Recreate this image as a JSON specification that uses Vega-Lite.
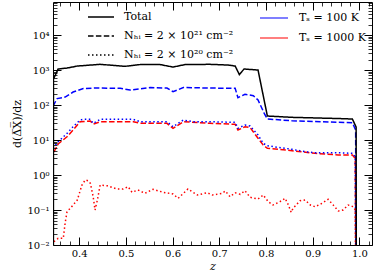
{
"$schema": "https://vega.github.io/schema/vega-lite/v6.json",
"width": 319, "height": 243,
"autosize": {"type": "none"},
"padding": {"left": 53, "top": 2, "right": 2, "bottom": 29},
"background": "white",
"config": {
 "view": {"stroke": "black", "strokeWidth": 1},
 "font": "DejaVu Serif",
 "axis": {"labelFont": "DejaVu Serif", "labelFontSize": 10, "labelColor": "black", "titleFont": "DejaVu Serif", "titleFontSize": 11, "titleFontWeight": "normal", "titleColor": "black", "grid": false},
 "legend": {"labelFont": "DejaVu Serif", "labelFontSize": 11, "labelColor": "black"}
},
"data": {"values": [
{"k":"Total","t":"-","z":0.3448,"v":0.0001},{"k":"Total","t":"-","z":0.345,"v":553},{"k":"Total","t":"-","z":0.355,"v":1069},{"k":"Total","t":"-","z":0.374,"v":1140},{"k":"Total","t":"-","z":0.396,"v":1300},{"k":"Total","t":"-","z":0.445,"v":1455},{"k":"Total","t":"-","z":0.498,"v":1276},{"k":"Total","t":"-","z":0.531,"v":1436},{"k":"Total","t":"-","z":0.573,"v":1436},{"k":"Total","t":"-","z":0.601,"v":1218},{"k":"Total","t":"-","z":0.627,"v":1436},{"k":"Total","t":"-","z":0.68,"v":1455},{"k":"Total","t":"-","z":0.719,"v":1389},{"k":"Total","t":"-","z":0.734,"v":1300},{"k":"Total","t":"-","z":0.743,"v":744},{"k":"Total","t":"-","z":0.753,"v":1069},{"k":"Total","t":"-","z":0.783,"v":1000},{"k":"Total","t":"-","z":0.803,"v":48.5},{"k":"Total","t":"-","z":0.856,"v":44.5},{"k":"Total","t":"-","z":0.955,"v":41.1},{"k":"Total","t":"-","z":0.985,"v":39.8},{"k":"Total","t":"-","z":0.993,"v":23.5},{"k":"Total","t":"-","z":0.9935,"v":0.0001},
{"k":"N21","t":"100","z":0.344,"v":93.6},{"k":"N21","t":"100","z":0.353,"v":153},{"k":"N21","t":"100","z":0.37,"v":169},{"k":"N21","t":"100","z":0.387,"v":235},{"k":"N21","t":"100","z":0.409,"v":296},{"k":"N21","t":"100","z":0.434,"v":306},{"k":"N21","t":"100","z":0.488,"v":300},{"k":"N21","t":"100","z":0.509,"v":268},{"k":"N21","t":"100","z":0.552,"v":316},{"k":"N21","t":"100","z":0.588,"v":306},{"k":"N21","t":"100","z":0.601,"v":240},{"k":"N21","t":"100","z":0.623,"v":316},{"k":"N21","t":"100","z":0.68,"v":306},{"k":"N21","t":"100","z":0.734,"v":300},{"k":"N21","t":"100","z":0.74,"v":162},{"k":"N21","t":"100","z":0.755,"v":202},{"k":"N21","t":"100","z":0.773,"v":185},{"k":"N21","t":"100","z":0.783,"v":139},{"k":"N21","t":"100","z":0.796,"v":59},{"k":"N21","t":"100","z":0.803,"v":39.8},{"k":"N21","t":"100","z":0.856,"v":35.6},{"k":"N21","t":"100","z":0.92,"v":33.3},{"k":"N21","t":"100","z":0.985,"v":31.2},{"k":"N21","t":"100","z":0.992,"v":19.3},{"k":"N21","t":"100","z":0.993,"v":0.0001},
{"k":"N21","t":"1000","z":0.346,"v":4.54},{"k":"N21","t":"1000","z":0.355,"v":7.69},{"k":"N21","t":"1000","z":0.374,"v":12.4},{"k":"N21","t":"1000","z":0.387,"v":19.3},{"k":"N21","t":"1000","z":0.402,"v":33.3},{"k":"N21","t":"1000","z":0.424,"v":34.9},{"k":"N21","t":"1000","z":0.43,"v":28.6},{"k":"N21","t":"1000","z":0.445,"v":33.3},{"k":"N21","t":"1000","z":0.516,"v":33.3},{"k":"N21","t":"1000","z":0.531,"v":30},{"k":"N21","t":"1000","z":0.588,"v":30},{"k":"N21","t":"1000","z":0.601,"v":21.6},{"k":"N21","t":"1000","z":0.623,"v":33.3},{"k":"N21","t":"1000","z":0.68,"v":30},{"k":"N21","t":"1000","z":0.734,"v":28.1},{"k":"N21","t":"1000","z":0.74,"v":19.3},{"k":"N21","t":"1000","z":0.755,"v":24},{"k":"N21","t":"1000","z":0.766,"v":22.8},{"k":"N21","t":"1000","z":0.783,"v":11.2},{"k":"N21","t":"1000","z":0.794,"v":7.2},{"k":"N21","t":"1000","z":0.803,"v":5.8},{"k":"N21","t":"1000","z":0.826,"v":5.42},{"k":"N21","t":"1000","z":0.856,"v":4.94},{"k":"N21","t":"1000","z":0.905,"v":4.17},{"k":"N21","t":"1000","z":0.955,"v":3.73},{"k":"N21","t":"1000","z":0.985,"v":3.73},{"k":"N21","t":"1000","z":0.991,"v":3.0},{"k":"N21","t":"1000","z":0.993,"v":0.0001},
{"k":"N20","t":"100","z":0.344,"v":5.8},{"k":"N20","t":"100","z":0.355,"v":8.94},{"k":"N20","t":"100","z":0.374,"v":15.5},{"k":"N20","t":"100","z":0.387,"v":24},{"k":"N20","t":"100","z":0.402,"v":37.3},{"k":"N20","t":"100","z":0.409,"v":39},{"k":"N20","t":"100","z":0.424,"v":39},{"k":"N20","t":"100","z":0.43,"v":30},{"k":"N20","t":"100","z":0.445,"v":39},{"k":"N20","t":"100","z":0.516,"v":39},{"k":"N20","t":"100","z":0.531,"v":33.3},{"k":"N20","t":"100","z":0.588,"v":33.3},{"k":"N20","t":"100","z":0.601,"v":24},{"k":"N20","t":"100","z":0.623,"v":37.3},{"k":"N20","t":"100","z":0.644,"v":33.3},{"k":"N20","t":"100","z":0.68,"v":33.3},{"k":"N20","t":"100","z":0.734,"v":32},{"k":"N20","t":"100","z":0.74,"v":21.6},{"k":"N20","t":"100","z":0.755,"v":26.8},{"k":"N20","t":"100","z":0.766,"v":25.1},{"k":"N20","t":"100","z":0.783,"v":13.9},{"k":"N20","t":"100","z":0.794,"v":8.05},{"k":"N20","t":"100","z":0.803,"v":6.88},{"k":"N20","t":"100","z":0.826,"v":6.18},{"k":"N20","t":"100","z":0.856,"v":5.42},{"k":"N20","t":"100","z":0.884,"v":4.63},{"k":"N20","t":"100","z":0.905,"v":4.34},{"k":"N20","t":"100","z":0.955,"v":4.34},{"k":"N20","t":"100","z":0.985,"v":4.17},{"k":"N20","t":"100","z":0.991,"v":3.33},{"k":"N20","t":"100","z":0.993,"v":0.0001},
{"k":"N20","t":"1000","z":0.346,"v":0.0124},{"k":"N20","t":"1000","z":0.355,"v":0.0155},{"k":"N20","t":"1000","z":0.366,"v":0.0155},{"k":"N20","t":"1000","z":0.37,"v":0.0425},{"k":"N20","t":"1000","z":0.374,"v":0.0894},{"k":"N20","t":"1000","z":0.381,"v":0.112},{"k":"N20","t":"1000","z":0.387,"v":0.139},{"k":"N20","t":"1000","z":0.396,"v":0.193},{"k":"N20","t":"1000","z":0.406,"v":0.518},{"k":"N20","t":"1000","z":0.413,"v":0.72},{"k":"N20","t":"1000","z":0.419,"v":0.687},{"k":"N20","t":"1000","z":0.424,"v":0.579},{"k":"N20","t":"1000","z":0.43,"v":0.24},{"k":"N20","t":"1000","z":0.434,"v":0.1},{"k":"N20","t":"1000","z":0.439,"v":0.193},{"k":"N20","t":"1000","z":0.445,"v":0.518},{"k":"N20","t":"1000","z":0.46,"v":0.494},{"k":"N20","t":"1000","z":0.481,"v":0.398},{"k":"N20","t":"1000","z":0.494,"v":0.398},{"k":"N20","t":"1000","z":0.505,"v":0.463},{"k":"N20","t":"1000","z":0.513,"v":0.321},{"k":"N20","t":"1000","z":0.526,"v":0.373},{"k":"N20","t":"1000","z":0.541,"v":0.3},{"k":"N20","t":"1000","z":0.558,"v":0.39},{"k":"N20","t":"1000","z":0.58,"v":0.321},{"k":"N20","t":"1000","z":0.601,"v":0.286},{"k":"N20","t":"1000","z":0.612,"v":0.216},{"k":"N20","t":"1000","z":0.633,"v":0.398},{"k":"N20","t":"1000","z":0.653,"v":0.268},{"k":"N20","t":"1000","z":0.674,"v":0.312},{"k":"N20","t":"1000","z":0.685,"v":0.268},{"k":"N20","t":"1000","z":0.706,"v":0.3},{"k":"N20","t":"1000","z":0.713,"v":0.349},{"k":"N20","t":"1000","z":0.723,"v":0.24},{"k":"N20","t":"1000","z":0.734,"v":0.312},{"k":"N20","t":"1000","z":0.745,"v":0.281},{"k":"N20","t":"1000","z":0.755,"v":0.356},{"k":"N20","t":"1000","z":0.766,"v":0.231},{"k":"N20","t":"1000","z":0.783,"v":0.206},{"k":"N20","t":"1000","z":0.794,"v":0.268},{"k":"N20","t":"1000","z":0.805,"v":0.173},{"k":"N20","t":"1000","z":0.815,"v":0.139},{"k":"N20","t":"1000","z":0.83,"v":0.173},{"k":"N20","t":"1000","z":0.841,"v":0.216},{"k":"N20","t":"1000","z":0.848,"v":0.139},{"k":"N20","t":"1000","z":0.854,"v":0.0859},{"k":"N20","t":"1000","z":0.858,"v":0.112},{"k":"N20","t":"1000","z":0.873,"v":0.184},{"k":"N20","t":"1000","z":0.884,"v":0.193},{"k":"N20","t":"1000","z":0.895,"v":0.139},{"k":"N20","t":"1000","z":0.905,"v":0.124},{"k":"N20","t":"1000","z":0.92,"v":0.155},{"k":"N20","t":"1000","z":0.933,"v":0.202},{"k":"N20","t":"1000","z":0.944,"v":0.139},{"k":"N20","t":"1000","z":0.955,"v":0.0936},{"k":"N20","t":"1000","z":0.965,"v":0.1},{"k":"N20","t":"1000","z":0.976,"v":0.139},{"k":"N20","t":"1000","z":0.987,"v":0.124},{"k":"N20","t":"1000","z":0.991,"v":0.1},{"k":"N20","t":"1000","z":0.993,"v":0.0001}
]},
"layer": [
 {
  "transform": [{"filter": "datum.k != 'Total'"}],
  "mark": {"type": "line", "clip": true, "strokeWidth": 1.5, "strokeCap": "butt"},
  "encoding": {
   "x": {"field": "z", "type": "quantitative", "scale": {"domain": [0.344, 1.027], "nice": false, "zero": false},
    "axis": {"orient": "bottom", "zindex": 1, "domain": false, "tickColor": "black", "tickWidth": 1, "tickSize": 8, "offset": -8,
     "values": [0.4,0.5,0.6,0.7,0.8,0.9,1.0], "format": ".1f",
     "labelPadding": 3, "title": "z", "titleFontStyle": "italic", "titlePadding": 2}},
   "y": {"field": "v", "type": "quantitative", "scale": {"type": "log", "domain": [0.01, 88000], "nice": false},
    "axis": {"orient": "left", "zindex": 1, "domain": false, "tickColor": "black", "tickWidth": 1, "tickSize": 8, "offset": -8,
     "values": [0.01,0.1,1,10,100,1000,10000],
     "labelExpr": "datum.value==0.01?'10⁻²':datum.value==0.1?'10⁻¹':datum.value==1?'10⁰':datum.value==10?'10¹':datum.value==100?'10²':datum.value==1000?'10³':'10⁴'",
     "labelPadding": 4, "title": "d(Δ̅X̅)/dz", "titlePadding": 4}},
   "color": {"field": "t", "type": "nominal", "scale": {"domain": ["100", "1000"], "range": ["#0000ff", "#ff0000"]},
    "legend": {"orient": "none", "legendX": 206, "legendY": 1, "title": null, "symbolType": "stroke", "symbolSize": 784, "symbolStrokeWidth": 1.2, "symbolDash": [1, 0], "labelOffset": 10, "rowPadding": -13, "labelExpr": "'Tₛ = ' + datum.label + ' K'"}},
   "strokeDash": {"field": "k", "type": "nominal", "scale": {"domain": ["Total", "N21", "N20"], "range": [[1, 0], [5.5, 2.4], [1.5, 2.5]]},
    "legend": {"orient": "none", "legendX": 34, "legendY": 1, "title": null, "symbolType": "stroke", "symbolSize": 676, "symbolStrokeWidth": 1.3, "symbolStrokeColor": "black", "labelOffset": 9, "rowPadding": -11, "labelExpr": "datum.label=='Total'?'Total':datum.label=='N21'?'Nₕᵢ = 2 × 10²¹ cm⁻²':'Nₕᵢ = 2 × 10²⁰ cm⁻²'"}}
  }
 },
 {
  "transform": [{"filter": "datum.k == 'Total'"}],
  "mark": {"type": "line", "clip": true, "strokeWidth": 1.5, "color": "black", "strokeCap": "butt"},
  "encoding": {
   "x": {"field": "z", "type": "quantitative", "scale": {"domain": [0.344, 1.027], "nice": false, "zero": false},
    "axis": {"orient": "top", "zindex": 1, "domain": false, "labels": false, "title": null, "tickColor": "black", "tickWidth": 1, "tickSize": 8, "offset": -8,
     "values": [0.4,0.5,0.6,0.7,0.8,0.9,1.0]}},
   "y": {"field": "v", "type": "quantitative", "scale": {"type": "log", "domain": [0.01, 88000], "nice": false},
    "axis": {"orient": "right", "zindex": 1, "domain": false, "labels": false, "title": null, "tickColor": "black", "tickWidth": 1, "tickSize": 8, "offset": -8,
     "values": [0.01,0.1,1,10,100,1000,10000]}},
   "strokeDash": {"field": "k", "type": "nominal"}
  }
 },
 {
  "transform": [{"filter": "datum.k == 'none'"}],
  "mark": {"type": "line", "clip": true, "color": "black"},
  "encoding": {
   "x": {"field": "z", "type": "quantitative", "scale": {"domain": [0.344, 1.027], "nice": false, "zero": false},
    "axis": {"orient": "bottom", "zindex": 1, "domain": false, "labels": false, "title": null, "tickColor": "black", "tickWidth": 0.8, "tickSize": 4, "offset": -4,
     "values": [0.36,0.38,0.42,0.44,0.46,0.48,0.52,0.54,0.56,0.58,0.62,0.64,0.66,0.68,0.72,0.74,0.76,0.78,0.82,0.84,0.86,0.88,0.92,0.94,0.96,0.98,1.02]}},
   "y": {"field": "v", "type": "quantitative", "scale": {"type": "log", "domain": [0.01, 88000], "nice": false},
    "axis": {"orient": "left", "zindex": 1, "domain": false, "labels": false, "title": null, "tickColor": "black", "tickWidth": 0.8, "tickSize": 4, "offset": -4,
     "values": [0.02,0.03,0.04,0.05,0.06,0.07,0.08,0.09,0.2,0.3,0.4,0.5,0.6,0.7,0.8,0.9,2,3,4,5,6,7,8,9,20,30,40,50,60,70,80,90,200,300,400,500,600,700,800,900,2000,3000,4000,5000,6000,7000,8000,9000,20000,30000,40000,50000,60000,70000,80000]}}
  }
 },
 {
  "transform": [{"filter": "datum.k == 'none'"}],
  "mark": {"type": "line", "clip": true, "color": "black"},
  "encoding": {
   "x": {"field": "z", "type": "quantitative", "scale": {"domain": [0.344, 1.027], "nice": false, "zero": false},
    "axis": {"orient": "top", "zindex": 1, "domain": false, "labels": false, "title": null, "tickColor": "black", "tickWidth": 0.8, "tickSize": 4, "offset": -4,
     "values": [0.36,0.38,0.42,0.44,0.46,0.48,0.52,0.54,0.56,0.58,0.62,0.64,0.66,0.68,0.72,0.74,0.76,0.78,0.82,0.84,0.86,0.88,0.92,0.94,0.96,0.98,1.02]}},
   "y": {"field": "v", "type": "quantitative", "scale": {"type": "log", "domain": [0.01, 88000], "nice": false},
    "axis": {"orient": "right", "zindex": 1, "domain": false, "labels": false, "title": null, "tickColor": "black", "tickWidth": 0.8, "tickSize": 4, "offset": -4,
     "values": [0.02,0.03,0.04,0.05,0.06,0.07,0.08,0.09,0.2,0.3,0.4,0.5,0.6,0.7,0.8,0.9,2,3,4,5,6,7,8,9,20,30,40,50,60,70,80,90,200,300,400,500,600,700,800,900,2000,3000,4000,5000,6000,7000,8000,9000,20000,30000,40000,50000,60000,70000,80000]}}
  }
 }
],
"resolve": {"axis": {"x": "independent", "y": "independent"}}
}
